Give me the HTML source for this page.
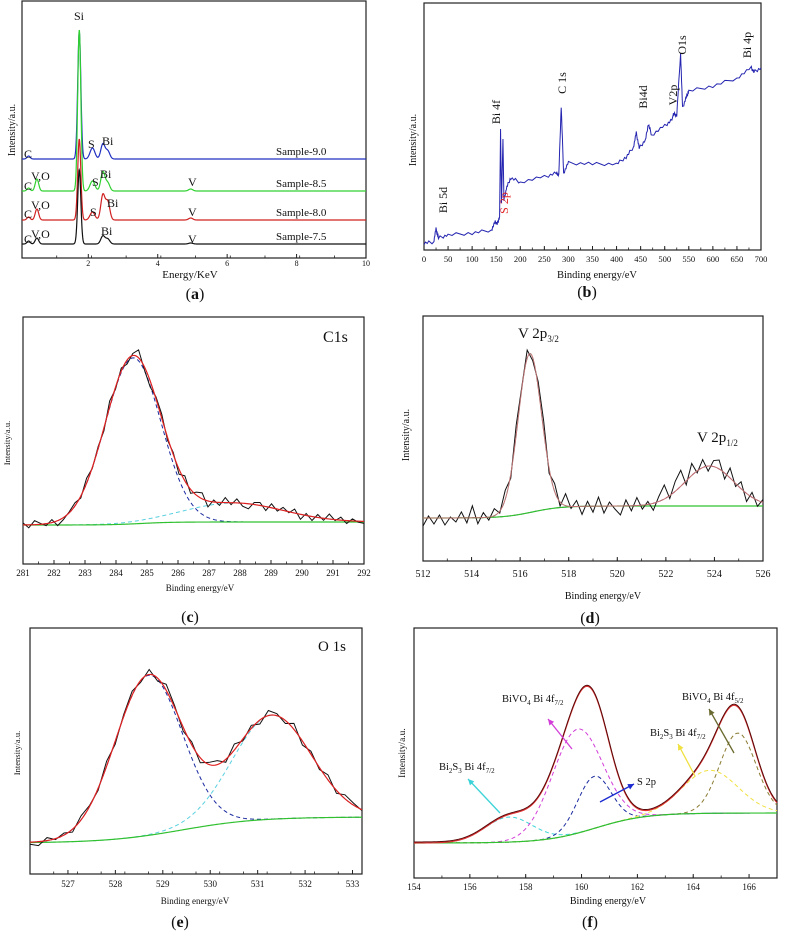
<!DOCTYPE html>
<html><head><meta charset="utf-8">
<style>
html,body{margin:0;padding:0;background:#fff;}
svg{display:block;font-family:"Liberation Serif",serif;}
</style></head>
<body>
<svg id="fig" width="785" height="938" viewBox="0 0 785 938" xmlns="http://www.w3.org/2000/svg"></svg>
<script>
// ---------- Panel (a) EDS data ----------
const edsCenters = [0.28, 0.52, 1.74, 2.12, 2.42, 2.56, 4.95];
const edsWidths  = [0.045, 0.05, 0.045, 0.07, 0.06, 0.06, 0.06];
const edsSample90 = [3, 0, 127, 11, 15, 8, 0];
const edsSample85 = [3, 12, 161, 10, 19, 8, 2];
const edsSample80 = [3, 11, 81, 8, 25, 18, 2];
const edsSample75 = [3, 6, 74, 0, 8, 5, 1];
const edsBaselines = [99, 67, 38, 14];
const edsNames = ["Sample-9.0", "Sample-8.5", "Sample-8.0", "Sample-7.5"];
const edsTicks = [2, 4, 6, 8, 10];

// ---------- Panel (b) survey spectrum ----------
const surveyE = [0,20,25,30,50,100,140,148,152,157,159,161,164,166,172,180,200,250,275,280,285,290,300,350,400,420,435,441,447,460,466,473,500,515,518,525,533,537,545,550,600,650,680,685,700];
const surveyI = [7,8,21,12,15,17,20,28,26,33,121,47,111,50,63,72,68,73,77,75,144,77,87,86,86,93,103,117,102,110,126,115,124,130,136,135,197,142,153,159,164,172,182,178,182];
const surveyTicks = [0,50,100,150,200,250,300,350,400,450,500,550,600,650,700];

// ---------- Panel (c) C1s ----------
const c1sCenters = [284.55, 287.8];
const c1sHeights = [166, 19];
const c1sSigmas = [0.9, 1.6];
const c1sBase = [39, 42];
const c1sNoise = [2,-3,4,1,-2,3,-5,-2,1,3,-2,5,-1,2,-3,6,-2,3,-4,2,8,-3,-6,2,4,-3,2,-5,5,-4,3,6,-6,2,-3,5,-2,4,-3,-5,2,3,-4,4,-2,3,-1,4,-5,2,-4,3,-2,5,-1,3,-3,2,-1,-2];
const c1sTicks = [281,282,283,284,285,286,287,288,289,290,291,292];

// ---------- Panel (d) V2p ----------
const v2pCenters = [516.4, 523.8];
const v2pHeights = [159, 40];
const v2pSigmas = [0.48, 1.0];
const v2pBase = [43, 55];
const v2pNoise = [-8,2,-6,3,-7,1,-4,6,-5,12,-6,5,-3,7,-2,9,-4,10,2,8,-3,6,10,-5,8,-4,12,-2,6,-8,5,-6,9,-7,4,-3,-9,6,-5,8,-4,3,-7,5,14,-3,10,16,-4,12,-2,8,-5,6,9,-6,10,-3,7,-8,5,-6,3];
const v2pTicks = [512,514,516,518,520,522,524,526];

// ---------- Panel (e) O1s ----------
const o1sCenters = [528.7, 531.3];
const o1sHeights = [160, 104];
const o1sSigmas = [0.71, 0.83];
const o1sBase = [31, 57];
const o1sNoise = [-2,-4,3,-1,2,-3,4,1,-2,5,-3,2,4,-2,5,-3,6,2,-4,3,-5,2,4,-3,6,-2,3,-4,5,2,-3,6,-4,3,-2,5,-3,4,2,-1];
const o1sTicks = [527,528,529,530,531,532,533];

// ---------- Panel (f) Bi4f / S2p ----------
const bi4fCenters = [157.4, 159.85, 160.45, 164.6, 165.6];
const bi4fHeights = [25, 104, 52, 43, 80];
const bi4fSigmas = [0.85, 0.9, 0.6, 1.0, 0.65];
const bi4fColors = ["#3cd3d8", "#d23cd8", "#1a2aa0", "#f0e040", "#8a7a30"];
const bi4fBase = [35, 65];
const bi4fTicks = [154,156,158,160,162,164,166];

// ================= drawing =================
const NS = "http://www.w3.org/2000/svg";
const svg = document.getElementById("fig");
function mk(tag, attrs, parent) {
  const el = document.createElementNS(NS, tag);
  for (const k in attrs) el.setAttribute(k, attrs[k]);
  (parent || svg).appendChild(el);
  return el;
}
function txt(str, x, y, size, parent, extra) {
  const t = mk("text", Object.assign({x: x, y: y, "font-size": size, fill: "#111"}, extra || {}), parent);
  t.textContent = str;
  return t;
}
function gauss(x, c, h, s) { return h * Math.exp(-(x - c) * (x - c) / (2 * s * s)); }
function sig(x, c, w) { return 1 / (1 + Math.exp(-(x - c) / w)); }

function panel(name, x0, x1, y0, y1, d0, d1) {
  const g = mk("g", {}, svg);
  
  
  const sx = v => x0 + (v - d0) / (d1 - d0) * (x1 - x0);
  const sy = v => y1 - v;
  return {g, sx, sy, x0, x1, y0, y1, d0, d1};
}
function box(P) {
  const r = mk("rect", {x: P.x0, y: P.y0, width: P.x1 - P.x0, height: P.y1 - P.y0, fill: "none", stroke: "#222", "stroke-width": 1.2}, P.g);
  
  
}
function xticks(P, ticks, labelY, size, minorStep) {
  const ax = mk("g", {}, P.g);
  
  
  ticks.forEach((t) => {
    const x = P.sx(t);
    mk("line", {x1: x, x2: x, y1: P.y1, y2: P.y1 - 4, stroke: "#222", "stroke-width": 1}, ax);
    const l = txt(String(t), x, labelY, size, ax, {"text-anchor": "middle"});
    
    
  });
  if (minorStep) {
    for (let v = P.d0; v <= P.d1 + 1e-9; v += minorStep) {
      const x = P.sx(v);
      mk("line", {x1: x, x2: x, y1: P.y1, y2: P.y1 - 2.5, stroke: "#222", "stroke-width": 0.8}, ax);
    }
  }
}
function pathFrom(P, xs, ys, attrs) {
  let d = "";
  xs.forEach((x, i) => { d += (i ? "L" : "M") + P.sx(x).toFixed(2) + "," + P.sy(ys[i]).toFixed(2); });
  return mk("path", Object.assign({d: d, fill: "none"}, attrs), P.g);
}
function samples(d0, d1, n) { const a = []; for (let i = 0; i <= n; i++) a.push(d0 + (d1 - d0) * i / n); return a; }
function ylabel(x, y, size, parent) {
  const t = txt("Intensity/a.u.", x, y, size, parent, {"text-anchor": "middle", transform: "rotate(-90 " + x + " " + y + ")"});
  
  
}
function xlabel(str, x, y, size, parent) {
  const t = txt(str, x, y, size, parent, {"text-anchor": "middle"});
  
  
}
function plabel(letter, x, y) {
  const t = mk("text", {x: x, y: y, "font-size": 16, "text-anchor": "middle", fill: "#111"}, svg);
  
  
  const a = mk("tspan", {}, t); a.textContent = "(";
  const b = mk("tspan", {"font-weight": "bold"}, t); b.textContent = letter;
  const c = mk("tspan", {}, t); c.textContent = ")";
}

// ---- (a) ----
(function () {
  const P = panel("panel-a-eds", 22, 366, 1, 258, 0.09, 10);
  box(P);
  xticks(P, edsTicks, 266, 8, 1);
  const series = [edsSample90, edsSample85, edsSample80, edsSample75];
  const colors = ["#2030c0", "#30d030", "#d02020", "#111"];
  const xs = samples(0.09, 10, 1400);
  series.forEach((pk, si) => {
    const ys = xs.map(x => {
      let v = edsBaselines[si];
      pk.forEach((h, k) => { v += gauss(x, edsCenters[k], h, edsWidths[k]); });
      return v;
    });
    const p = pathFrom(P, xs, ys, {stroke: colors[si], "stroke-width": 1.2});
    
    
    const lb = txt(edsNames[si], 276, P.sy(edsBaselines[si]) - 4, 11, P.g);
    
    
  });
  const L = [["Si",74,20],["S",88,148],["Bi",102,145],["C",24,158],
             ["C",24,190],["V,O",31,180],["S",92,186],["Bi",100,178],["V",188,186],
             ["C",24,218],["V,O",31,209],["S",90,216],["Bi",107,207],["V",188,216],
             ["C",24,243],["V,O",31,238],["Bi",101,235],["V",188,243]];
  L.forEach(l => { const t = txt(l[0], l[1], l[2], 12, P.g);   });
  xlabel("Energy/KeV", 190, 278, 11, P.g);
  ylabel(15, 130, 10, P.g);
  plabel("a", 195, 299);
})();

// ---- (b) ----
(function () {
  const P = panel("panel-b-survey", 424, 761, 3, 250, 0, 700);
  box(P);
  xticks(P, surveyTicks, 262, 8.5, 25);
  const xs = [], ys = [];
  for (let i = 0; i < surveyE.length - 1; i++) {
    for (let s = 0; s < 6; s++) {
      const e = surveyE[i] + (surveyE[i + 1] - surveyE[i]) * s / 6;
      const w = (surveyE[i + 1] - surveyE[i]) > 3 ? 1 : 0;
      xs.push(e); ys.push(surveyI[i] + (surveyI[i + 1] - surveyI[i]) * s / 6 + w * ((i * 7 + s * 3) % 5 - 2) * 0.8);
    }
  }
  xs.push(surveyE[surveyE.length - 1]); ys.push(surveyI[surveyI.length - 1]);
  const p = pathFrom(P, xs, ys, {stroke: "#2424b0", "stroke-width": 1});
  
  
  const L = [["Bi 5d",447,200,"#111"],["Bi 4f",500,112,"#111"],["S 2p",508,203,"#e02020"],["C 1s",566,83,"#111"],
             ["Bi4d",647,97,"#111"],["V2p",677,95,"#111"],["O1s",686,45,"#111"],["Bi 4p",751,45,"#111"]];
  L.forEach(l => {
    const t = txt(l[0], l[1], l[2], 12, P.g, {"text-anchor": "middle", fill: l[3], transform: "rotate(-90 " + l[1] + " " + l[2] + ")"});
    
    
  });
  xlabel("Binding energy/eV", 597, 278, 10.5, P.g);
  ylabel(416, 140, 10, P.g);
  plabel("b", 587, 297);
})();

function fitPanel(P, centers, heights, sigmas, base, sigC, sigW, noise, opts) {
  const xs = samples(P.d0, P.d1, 300);
  const bl = x => base[0] + (base[1] - base[0]) * sig(x, sigC, sigW);
  const baseY = xs.map(bl);
  centers.forEach((c, k) => {
    const ys = xs.map(x => bl(x) + gauss(x, c, heights[k], sigmas[k]));
    const p = pathFrom(P, xs, ys, {stroke: opts.compColors[k], "stroke-width": 1, "stroke-dasharray": "4,3"});
    
    
  });
  const b = pathFrom(P, xs, baseY, {stroke: "#30c030", "stroke-width": 1.2});
  
  
  const fit = xs.map(x => { let v = bl(x); centers.forEach((c, k) => v += gauss(x, c, heights[k], sigmas[k])); return v; });
  if (noise) {
    const rx = samples(P.d0, P.d1, noise.length - 1);
    const ry = rx.map((x, i) => { let v = bl(x); centers.forEach((c, k) => v += gauss(x, c, heights[k], sigmas[k])); return v + noise[i]; });
    const r = pathFrom(P, rx, ry, {stroke: "#111", "stroke-width": 1});
    
    
  }
  const f = pathFrom(P, xs, fit, {stroke: opts.fitColor, "stroke-width": opts.fitWidth || 1.2});
  
  
}

// ---- (c) ----
(function () {
  const P = panel("panel-c-c1s", 23, 364, 317, 564, 281, 292);
  box(P);
  xticks(P, c1sTicks, 576, 9, 0.5);
  fitPanel(P, c1sCenters, c1sHeights, c1sSigmas, c1sBase, 284.8, 0.5, c1sNoise, {compColors: ["#1a2aa0", "#5ad0e0"], fitColor: "#e02020"});
  const t = txt("C1s", 323, 342, 16, P.g);  
  xlabel("Binding energy/eV", 200, 591, 9, P.g);
  ylabel(10, 443, 8.5, P.g);
  plabel("c", 190, 622);
})();

// ---- (d) ----
(function () {
  const P = panel("panel-d-v2p", 423, 763, 316, 561, 512, 526);
  box(P);
  xticks(P, v2pTicks, 577, 10, 1);
  fitPanel(P, v2pCenters, v2pHeights, v2pSigmas, v2pBase, 516.5, 0.6, v2pNoise, {compColors: ["#50c0c0", "#802080"], fitColor: "#c07070", fitWidth: 1});
  const t1 = mk("text", {x: 518, y: 338, "font-size": 15, fill: "#111"}, P.g);
   
  t1.innerHTML = 'V 2p<tspan font-size="9" dy="4">3/2</tspan>';
  const t2 = mk("text", {x: 697, y: 442, "font-size": 15, fill: "#111"}, P.g);
   
  t2.innerHTML = 'V 2p<tspan font-size="9" dy="4">1/2</tspan>';
  xlabel("Binding energy/eV", 603, 599, 10, P.g);
  ylabel(409, 435, 10, P.g);
  plabel("d", 590, 623);
})();

// ---- (e) ----
(function () {
  const P = panel("panel-e-o1s", 30, 362, 628, 874, 526.2, 533.2);
  box(P);
  xticks(P, o1sTicks, 887, 9, 0.5);
  fitPanel(P, o1sCenters, o1sHeights, o1sSigmas, o1sBase, 529.4, 0.8, o1sNoise, {compColors: ["#1a2aa0", "#5ad0e0"], fitColor: "#e02020"});
  const t = txt("O 1s", 318, 651, 15, P.g);  
  xlabel("Binding energy/eV", 195, 904, 9, P.g);
  ylabel(20, 753, 8.5, P.g);
  plabel("e", 180, 927);
})();

// ---- (f) ----
(function () {
  const P = panel("panel-f-bi4f", 414, 777, 628, 878, 154, 167);
  box(P);
  xticks(P, bi4fTicks, 890, 9, 1);
  fitPanel(P, bi4fCenters, bi4fHeights, bi4fSigmas, bi4fBase, 160.5, 0.9, null, {compColors: bi4fColors, fitColor: "#e03030", fitWidth: 1.2});
  const xs = samples(154, 167, 300);
  const bl = x => bi4fBase[0] + (bi4fBase[1] - bi4fBase[0]) * sig(x, 160.5, 0.9);
  const ys = xs.map(x => { let v = bl(x); bi4fCenters.forEach((c, k) => v += gauss(x, c, bi4fHeights[k], bi4fSigmas[k])); return v + 1; });
  const r = pathFrom(P, xs, ys, {stroke: "#5a0a0a", "stroke-width": 1});
  
  
  const labels = [
    [439, 770, 'Bi<tspan font-size="7" dy="3">2</tspan><tspan dy="-3">S</tspan><tspan font-size="7" dy="3">3</tspan><tspan dy="-3"> Bi 4f</tspan><tspan font-size="7" dy="3">7/2</tspan>'],
    [502, 702, 'BiVO<tspan font-size="7" dy="3">4</tspan><tspan dy="-3"> Bi 4f</tspan><tspan font-size="7" dy="3">7/2</tspan>'],
    [637, 785, 'S 2p'],
    [650, 736, 'Bi<tspan font-size="7" dy="3">2</tspan><tspan dy="-3">S</tspan><tspan font-size="7" dy="3">3</tspan><tspan dy="-3">  Bi 4f</tspan><tspan font-size="7" dy="3">7/2</tspan>'],
    [682, 700, 'BiVO<tspan font-size="7" dy="3">4</tspan><tspan dy="-3"> Bi 4f</tspan><tspan font-size="7" dy="3">5/2</tspan>']
  ];
  labels.forEach(l => {
    const t = mk("text", {x: l[0], y: l[1], "font-size": 10.5, fill: "#111"}, P.g);
    
    
    t.innerHTML = l[2];
  });
  const arrows = [[500,813,468,779,"#3cd3d8"],[572,749,548,719,"#d23cd8"],[600,802,634,784,"#1a2ad0"],[695,776,678,744,"#f0e040"],[734,753,709,709,"#6a6a30"]];
  arrows.forEach(a => {
    const g = mk("g", {}, P.g);
    
    
    mk("line", {x1: a[0], y1: a[1], x2: a[2], y2: a[3], stroke: a[4], "stroke-width": 1.3}, g);
    const ang = Math.atan2(a[3] - a[1], a[2] - a[0]);
    const L = 6, W = 3;
    const bx = a[2] - L * Math.cos(ang), by = a[3] - L * Math.sin(ang);
    const pts = [a[2] + "," + a[3], (bx + W * Math.sin(ang)) + "," + (by - W * Math.cos(ang)), (bx - W * Math.sin(ang)) + "," + (by + W * Math.cos(ang))];
    mk("polygon", {points: pts.join(" "), fill: a[4]}, g);
  });
  xlabel("Binding energy/eV", 608, 904, 10, P.g);
  ylabel(405, 753, 9.5, P.g);
  plabel("f", 590, 927);
})();
</script>
</body></html>
